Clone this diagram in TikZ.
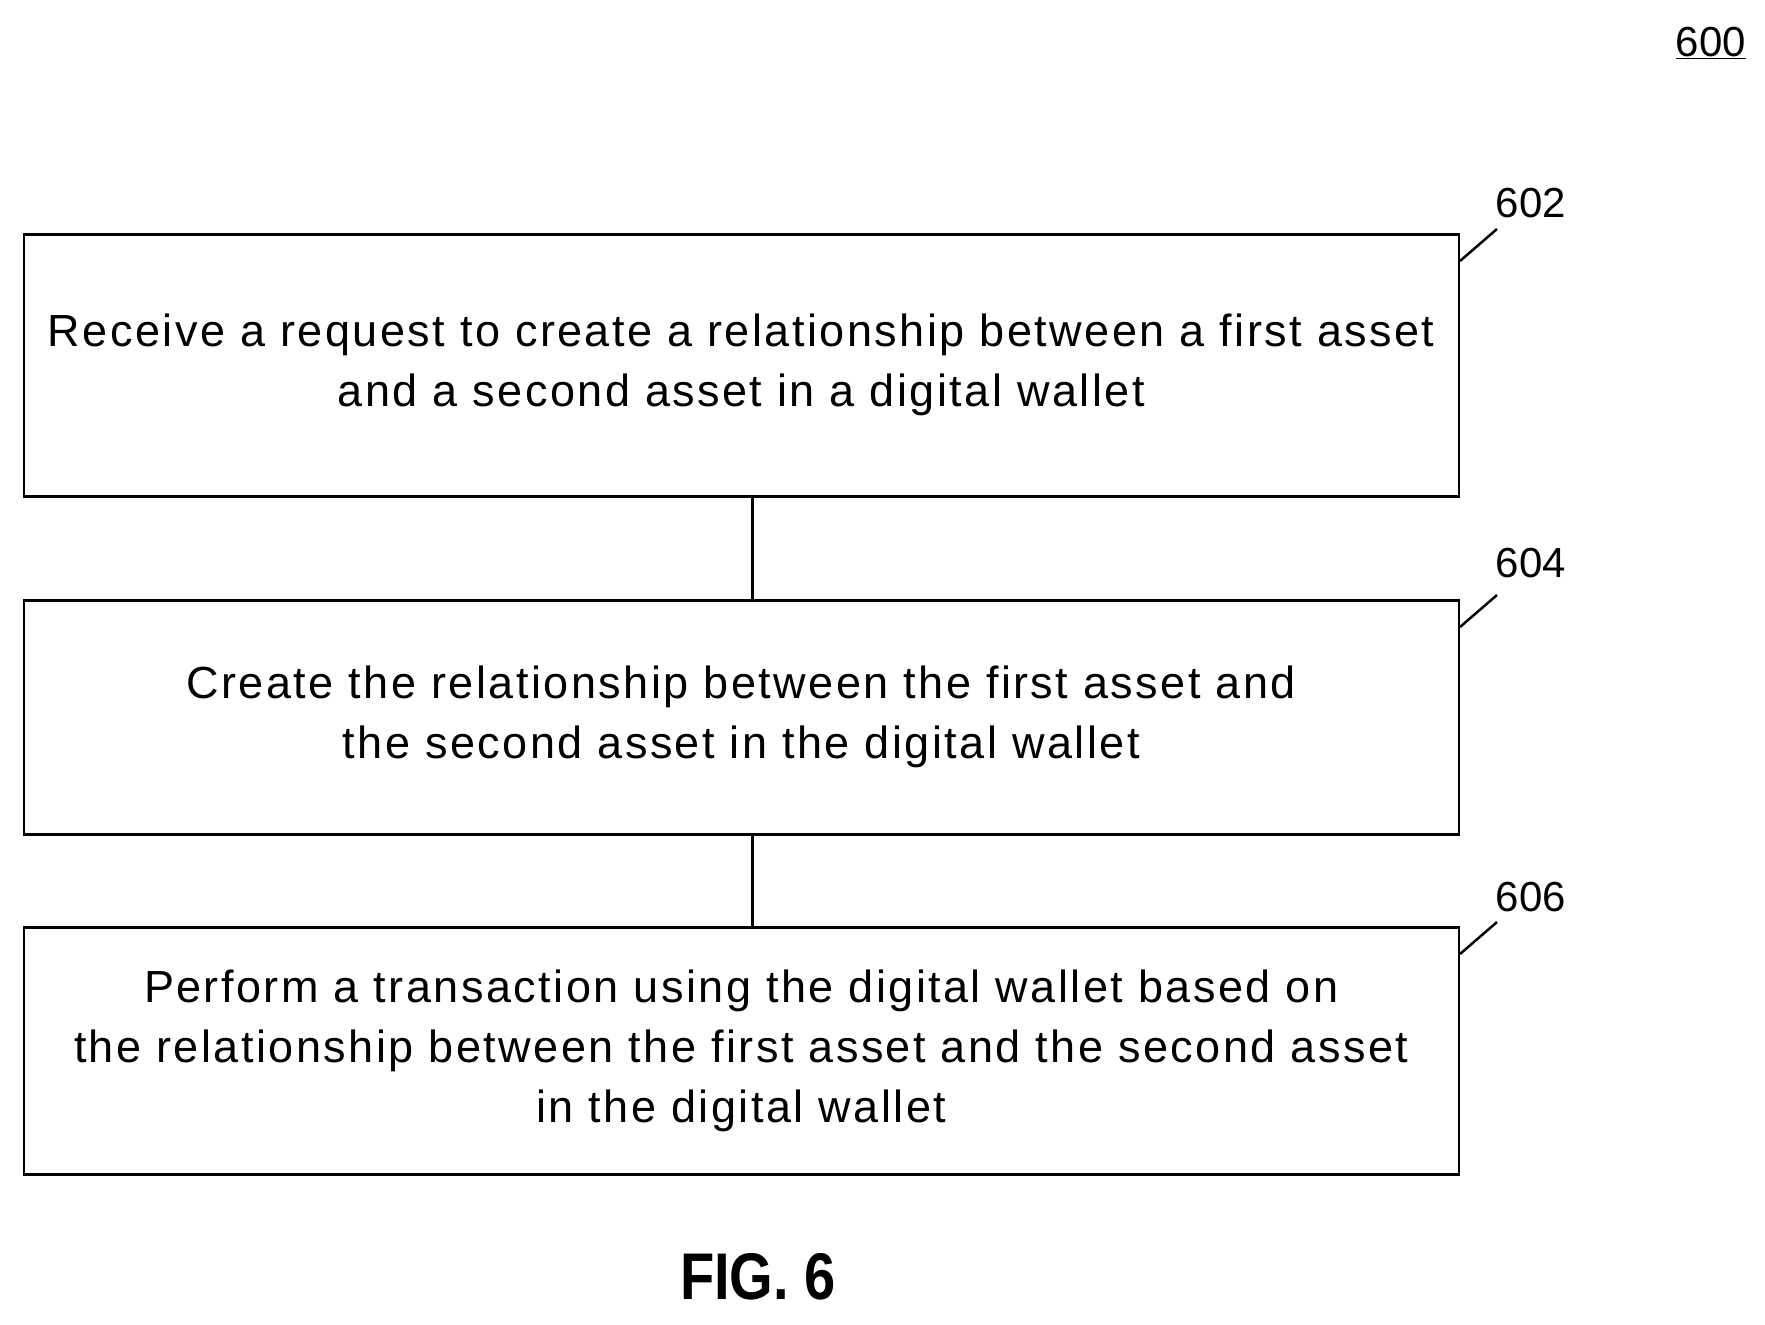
\documentclass[tikz,border=0pt]{standalone}
\usepackage{fontspec}
\setmainfont{Liberation Sans}
\newfontfamily\boxfont[LetterSpace=5.5]{Liberation Sans}
\begin{document}
\begin{tikzpicture}[x=1pt,y=-1pt,
  box/.style={draw,line width=2.5pt,minimum width=1435pt,anchor=north west,inner sep=0pt,font=\boxfont\fontsize{45}{60}\selectfont,align=center},
  lbl/.style={font=\fontsize{42}{50}\selectfont},
  ln/.style={line width=2.5pt}]
\useasboundingbox (0,0) rectangle (1765,1325);
\node[box,minimum height=262pt] (b1) at (22.5,233) {Receive a request to create a relationship between a first asset\\and a second asset in a digital wallet};
\node[box,minimum height=234pt] (b2) at (22.5,599) {Create the relationship between the first asset and\\the second asset in the digital wallet};
\node[box,minimum height=247pt] (b3) at (22.5,926) {Perform a transaction using the digital wallet based on\\the relationship between the first asset and the second asset\\in the digital wallet};
\draw[ln] ([xshift=11pt]b1.south) -- ([xshift=11pt]b2.north);
\draw[ln] ([xshift=11pt]b2.south) -- ([xshift=11pt]b3.north);
\node[lbl] (l1) at (1531,203) {602};
\node[lbl] (l2) at (1531,563) {604};
\node[lbl] (l3) at (1531,897) {606};
\draw[ln] ([yshift=-28pt]b1.north east) -- ++(37,-32);
\draw[ln] ([yshift=-28pt]b2.north east) -- ++(37,-32);
\draw[ln] ([yshift=-28pt]b3.north east) -- ++(37,-32);
\node[lbl] (l0) at (1711,43) {\underline{600}};
\node[font=\bfseries\fontsize{66}{70}\selectfont,xscale=0.85] (fig) at (758,1277) {FIG. 6};
\end{tikzpicture}
\end{document}
